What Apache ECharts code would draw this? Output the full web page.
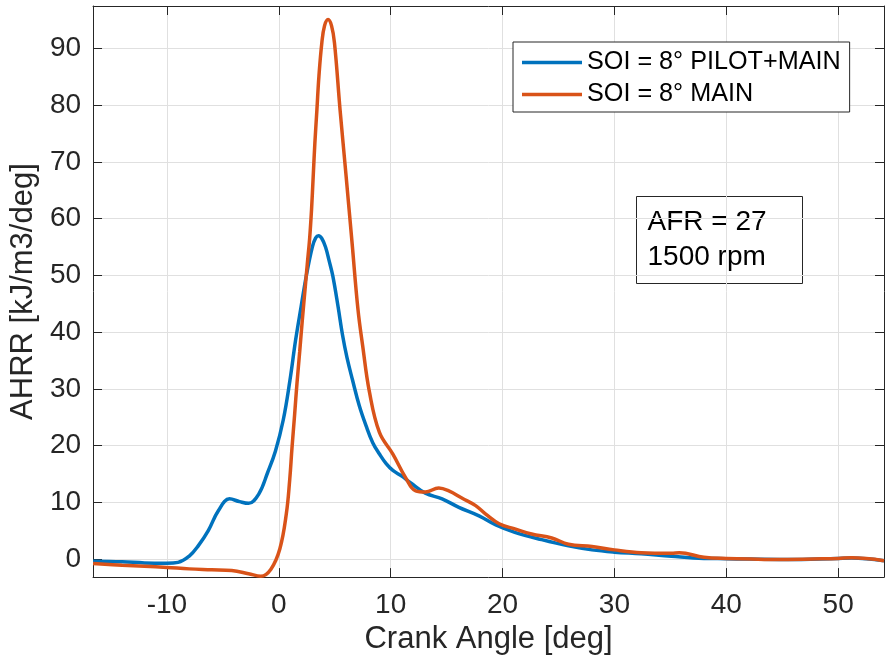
<!DOCTYPE html>
<html>
<head>
<meta charset="utf-8">
<title>AHRR vs Crank Angle</title>
<script src="https://cdn.jsdelivr.net/npm/echarts@6/dist/echarts.min.js"></script>
<style>
  html, body { margin: 0; padding: 0; background: #fff; }
  #chart { width: 885px; height: 660px; }
</style>
</head>
<body>
<div id="chart"></div>
<script>
// Apparent heat release rate, SOI = 8 deg, pilot+main vs main-only injection
const pilotAngle = [-16.6, -14, -12, -10, -9, -8, -7.2, -6.3, -5.4, -4.4, -3.5, -2.7, -1.8, -1.0, -0.3,
  0.4, 1.0, 1.5, 2.0, 2.46, 3.0, 3.3, 3.56, 3.85, 4.18, 4.5, 4.83, 5.3, 5.7, 6.1, 6.6, 7.2, 7.8, 8.4,
  9.0, 9.6, 10.2, 11.0, 11.8, 13.1, 14.6, 16.1, 17.9, 19.4, 21.1, 23.5, 25.9, 28, 30, 32.4, 35.1,
  38, 40, 45.5, 50, 51.2, 54.1];
const pilotHRR = [-0.4, -0.5, -0.7, -0.75, -0.6, 0.5, 2.3, 5.0, 8.5, 10.6, 10.1, 9.8, 11.4, 15.2, 19.0,
  24.5, 31.5, 38.5, 44.5, 49.9, 55.0, 56.6, 57, 56.5, 55.0, 52.6, 49.9, 44.5, 39.5, 35.5, 31.5, 27, 23.5, 20.5,
  18.5, 16.8, 15.6, 14.6, 13.4, 11.6, 10.6, 9.1, 7.6, 6.0, 4.7, 3.4, 2.3, 1.6, 1.2, 0.9, 0.47,
  0.1, 0.05, -0.1, 0.1, 0.15, -0.3];

const mainAngle = [-16.6, -14, -12, -10, -8, -6, -4.2, -2.7, -1.6, -0.7, 0.1, 0.68, 0.98, 1.18, 1.42,
  1.63, 1.87, 2.1, 2.37, 2.55, 2.76, 2.93, 3.08, 3.23, 3.41, 3.59, 3.85, 4.09, 4.41, 4.72, 4.98,
  5.48, 6.02, 6.55, 7.08, 7.5, 8.1, 9.0, 10.2, 11.35, 12.24, 13.1, 14.3, 15.2, 16.4, 17.6, 18.5,
  19.7, 21.1, 22.6, 24.4, 25.9, 28, 30, 32.4, 35.1, 35.8, 38, 40, 45.5, 50, 51.2, 54.1];
const mainHRR = [-0.8, -1.1, -1.3, -1.5, -1.75, -1.9, -2.05, -2.6, -3.05, -1.8, 1.8, 8.0, 14.0, 19.5, 25.5,
  31, 36.5, 42, 48, 52, 56.5, 61.6, 67.5, 73.4, 79.2, 85.1, 91, 94.0, 95.1, 94.0, 91,
  79.2, 67.5, 55.8, 44, 37.6, 29.5, 22.3, 18.5, 14.3, 12.0, 11.8, 12.5, 12.0, 10.7, 9.4, 7.9,
  6.2, 5.3, 4.4, 3.7, 2.6, 2.2, 1.6, 1.1, 1.0, 1.1, 0.3, 0.1, -0.1, 0.1, 0.2, -0.3];

const seriesNames = ['SOI = 8\u00b0 PILOT+MAIN', 'SOI = 8\u00b0 MAIN'];
const seriesColors = ['#0072BD', '#D95319'];
const noteLines = ['AFR = 27', '1500 rpm'];
const xTitle = 'Crank Angle [deg]';
const yTitle = 'AHRR [kJ/m3/deg]';

const xRange = [-16.6, 54.1];
const yRange = [-3.2, 97.5];

const FONT = '"Liberation Sans", Arial, Helvetica, sans-serif';
const AXIS_COLOR = '#262626';
const GRID_COLOR = '#e0e0e0';

function pairs(xs, ys) {
  return xs.map((x, i) => [x, ys[i]]);
}

function boxAxis(extra) {
  return Object.assign({
    type: 'value',
    axisLine: { show: true, onZero: false, lineStyle: { color: AXIS_COLOR, width: 1 } },
    axisTick: { show: true, inside: true, length: 9, lineStyle: { color: AXIS_COLOR, width: 1 } },
    axisLabel: { show: false },
    splitLine: { show: false }
  }, extra);
}

const chart = echarts.init(document.getElementById('chart'), null, { renderer: 'canvas' });

chart.setOption({
  animation: false,
  backgroundColor: '#fff',
  textStyle: { fontFamily: FONT },
  grid: { left: 89, right: 1, top: 6, bottom: 82, containLabel: false },
  xAxis: [
    {
      type: 'value',
      position: 'bottom',
      min: xRange[0], max: xRange[1], splitNumber: 7,
      axisLine: { show: true, onZero: false, lineStyle: { color: AXIS_COLOR, width: 1 } },
      axisTick: { show: true, inside: true, length: 9, lineStyle: { color: AXIS_COLOR, width: 1 } },
      axisLabel: { fontSize: 28, color: AXIS_COLOR, margin: 14, fontFamily: FONT,
        showMinLabel: false, showMaxLabel: false },
      splitLine: { show: true, lineStyle: { color: GRID_COLOR, width: 1 } },
      name: xTitle, nameLocation: 'middle', nameGap: 45,
      nameTextStyle: { fontSize: 31, color: AXIS_COLOR, fontFamily: FONT }
    },
    boxAxis({ position: 'top', min: xRange[0], max: xRange[1], splitNumber: 7 })
  ],
  yAxis: [
    {
      type: 'value',
      position: 'left',
      min: yRange[0], max: yRange[1], splitNumber: 10,
      axisLine: { show: true, onZero: false, lineStyle: { color: AXIS_COLOR, width: 1 } },
      axisTick: { show: true, inside: true, length: 9, lineStyle: { color: AXIS_COLOR, width: 1 } },
      axisLabel: { fontSize: 28, color: AXIS_COLOR, margin: 12, fontFamily: FONT,
        showMinLabel: false, showMaxLabel: false },
      splitLine: { show: true, lineStyle: { color: GRID_COLOR, width: 1 } },
      name: yTitle, nameLocation: 'middle', nameGap: 46,
      nameTextStyle: { fontSize: 31, color: AXIS_COLOR, fontFamily: FONT }
    },
    boxAxis({ position: 'right', min: yRange[0], max: yRange[1], splitNumber: 10 })
  ],
  legend: {
    left: 513, top: 42,
    orient: 'vertical',
    icon: 'rect',
    itemWidth: 60, itemHeight: 3.5,
    itemGap: 7,
    padding: [8, 9, 5, 9],
    borderColor: AXIS_COLOR, borderWidth: 1,
    backgroundColor: '#fff',
    textStyle: { fontSize: 25.2, color: '#000', fontFamily: FONT },
    data: seriesNames
  },
  series: [
    {
      name: seriesNames[0], type: 'line',
      xAxisIndex: 0, yAxisIndex: 0,
      data: pairs(pilotAngle, pilotHRR),
      smooth: 0.4, showSymbol: false, symbol: 'none',
      lineStyle: { color: seriesColors[0], width: 3.5 },
      itemStyle: { color: seriesColors[0] },
      z: 3
    },
    {
      name: seriesNames[1], type: 'line',
      xAxisIndex: 0, yAxisIndex: 0,
      data: pairs(mainAngle, mainHRR),
      smooth: 0.4, showSymbol: false, symbol: 'none',
      lineStyle: { color: seriesColors[1], width: 3.5 },
      itemStyle: { color: seriesColors[1] },
      z: 4
    }
  ],
  graphic: [
    {
      type: 'group', left: 636, top: 196, z: 100,
      children: [
        { type: 'rect', shape: { x: 0, y: 0, width: 166, height: 87 },
          style: { fill: '#fff', stroke: AXIS_COLOR, lineWidth: 1 } },
        { type: 'text', x: 11, y: 8,
          style: { text: noteLines.join('\n'), fontSize: 28, fontFamily: FONT,
            fill: '#000', lineHeight: 35, verticalAlign: 'top' } }
      ]
    }
  ]
});
</script>
</body>
</html>
